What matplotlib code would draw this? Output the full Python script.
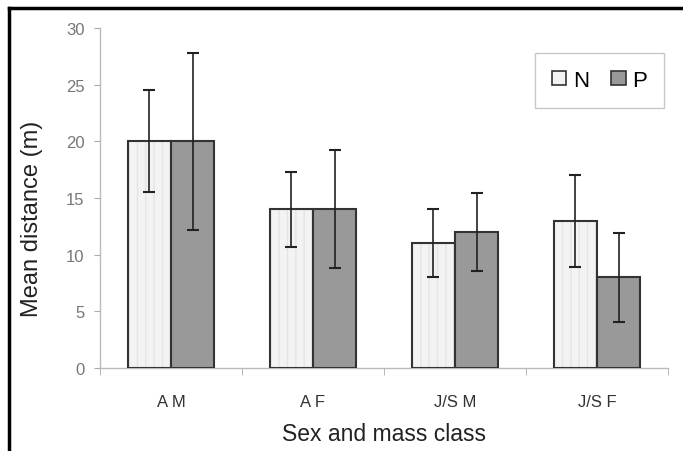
import matplotlib.pyplot as plt
from matplotlib.lines import Line2D
from matplotlib.patches import Patch
import numpy as np

plt.rcParams['font.family'] = ['Liberation Sans', 'DejaVu Sans']

# data
classes = ['A M', 'A F', 'J/S M', 'J/S F']
n_mean = [20, 14, 11, 13]
n_err = [4.5, 3.3, 3.0, 4.05]
p_mean = [20, 14, 12, 8]
p_err = [7.8, 5.2, 3.4, 3.9]

fig = plt.figure(figsize=(6.83, 4.52), dpi=100)
ax = fig.add_axes([0.1464, 0.1836, 0.8316, 0.7522])

x = np.arange(len(classes))
w = 0.306
edge = '#333333'

# light bars with faint vertical stripes
ax.bar(x - w/2, n_mean, w, color='#f3f3f3', edgecolor='#e4e4e4', hatch='||', linewidth=0, zorder=2)
ax.bar(x - w/2, n_mean, w, color='none', edgecolor=edge, linewidth=1.5, zorder=3)
ax.bar(x + w/2, p_mean, w, color='#999999', edgecolor=edge, linewidth=1.5, zorder=3)

ax.errorbar(x - w/2, n_mean, yerr=n_err, fmt='none', ecolor='#222222', elinewidth=1.2,
            capsize=4, capthick=1.5, zorder=4)
ax.errorbar(x + w/2, p_mean, yerr=p_err, fmt='none', ecolor='#222222', elinewidth=1.2,
            capsize=4, capthick=1.5, zorder=4)

ax.set_xlim(-0.5, len(classes) - 0.5)
ax.set_ylim(0, 30)
ax.set_yticks(range(0, 31, 5))
ax.set_xticks(x)
ax.set_xticklabels(classes)
ax.set_xticks(np.arange(-0.5, len(classes), 1), minor=True)
ax.tick_params(axis='x', which='major', length=0, pad=19, labelsize=12, labelcolor='#333333')
ax.tick_params(axis='x', which='minor', length=5, color='#aaaaaa', direction='out')
ax.tick_params(axis='y', length=4, color='#aaaaaa', labelsize=12, labelcolor='#777777', pad=7)

for s in ['top', 'right']:
    ax.spines[s].set_visible(False)
for s in ['left', 'bottom']:
    ax.spines[s].set_color('#bbbbbb')
    ax.spines[s].set_linewidth(1)

ax.set_xlabel('Sex and mass class', fontsize=16.5, color='#222222')
ax.set_ylabel('Mean distance (m)', fontsize=17, color='#222222')
ax.xaxis.set_label_coords(0.5, -0.159)
ax.yaxis.set_label_coords(-0.1, 0.441)

handles = [Patch(facecolor='#f2f2f2', edgecolor=edge, linewidth=1.2),
           Patch(facecolor='#999999', edgecolor=edge, linewidth=1.2)]
leg = ax.legend(handles, ['N', 'P'], loc='upper right', bbox_to_anchor=(0.993, 0.926),
                borderaxespad=0, ncol=2, frameon=True, fancybox=False, fontsize=16,
                handlelength=0.65, handleheight=0.65, handletextpad=0.3,
                columnspacing=1.0, borderpad=0.75)
leg.get_frame().set_edgecolor('#bbbbbb')
leg.get_frame().set_linewidth(1)

# outer frame (top and left lines)
fig.add_artist(Line2D([9/683, 1], [1 - 9/452, 1 - 9/452], color='black', linewidth=2.5))
fig.add_artist(Line2D([9/683, 9/683], [0, 1 - 9/452], color='black', linewidth=2.5))

fig.savefig('out.png', dpi=100)
